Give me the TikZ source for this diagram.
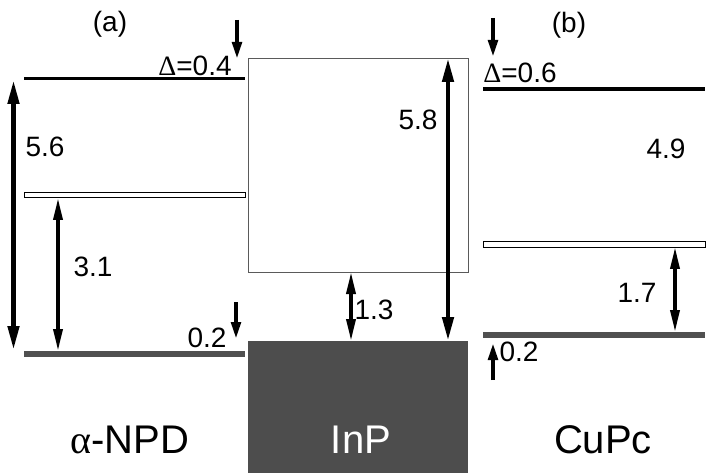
\documentclass[tikz,border=0pt]{standalone}
\usepackage{fontspec}
\setmainfont{Liberation Sans}
\newfontfamily\grk{Liberation Serif}
\usetikzlibrary{arrows.meta}
\definecolor{barg}{HTML}{505050}
\definecolor{inpg}{HTML}{4D4D4D}
\definecolor{boxg}{HTML}{5A5A5A}
\begin{document}
\begin{tikzpicture}[x=1pt,y=-1pt,
  lumo/.style={fill=black,draw=none,inner sep=0pt,minimum width=221pt,minimum height=3.5pt,anchor=west},
  hollow/.style={fill=white,draw=black,line width=1pt,inner sep=0pt,minimum width=221pt,minimum height=5.5pt,anchor=north west},
  gbar/.style={fill=barg,draw=none,inner sep=0pt,minimum width=221pt,minimum height=6pt,anchor=north west},
  bigdbl/.style={line width=4.5pt,{Triangle[length=24pt,width=11pt]}-{Triangle[length=24pt,width=11pt]}},
  thindbl/.style={line width=3.5pt,{Triangle[length=22pt,width=9pt]}-{Triangle[length=22pt,width=9pt]}},
  shiftarr/.style={line width=4.5pt,-{Triangle[length=18pt,width=9pt]}},
  lbl/.style={font=\fontsize{28}{28}\selectfont,inner sep=0pt},
  big/.style={font=\fontsize{40}{40}\selectfont,inner sep=0pt,anchor=base}]
\fill[white] (0,0) rectangle (715,473);
\useasboundingbox (0,0) rectangle (715,473);
% ---------- left panel (alpha-NPD)
\node[lumo] (luA) at (24,78.5) {};
\node[hollow] (hoA) at (24,192) {};
\node[gbar] (gbA) at (24,351) {};
\coordinate (a56t) at (13.5,80);
\coordinate (a56b) at (13.5,350);
\draw[bigdbl] (a56t) -- (a56b);
\coordinate (a31t) at (58,198);
\coordinate (a31b) at (58,351);
\draw[thindbl] (a31t) -- (a31b);
\coordinate (s04a) at (237,20);
\coordinate (s04b) at (237,60);
\draw[shiftarr] (s04a) -- (s04b);
\coordinate (s02a) at (236,302);
\coordinate (s02b) at (236,340);
\draw[shiftarr] (s02a) -- (s02b);
\node[lbl] (ta) at (110,24) {(a)};
\node[lbl] (t04) at (195,66) {{\grk Δ}=0.4};
\node[lbl] (t56) at (45,147) {5.6};
\node[lbl] (t31) at (93,267) {3.1};
\node[lbl] (t02a) at (207,338) {0.2};
\node[big] (npd) at (130,453) {{\grk α}-NPD};
% ---------- middle (InP)
\node[draw=boxg,line width=1pt,fill=white,inner sep=0pt,minimum width=220pt,minimum height=214pt,anchor=north west] (box) at (248,58) {};
\node[fill=inpg,draw=none,inner sep=0pt,minimum width=220pt,minimum height=133pt,anchor=north west] (inp) at (248,341) {};
\coordinate (a58t) at (448,58);
\coordinate (a58b) at (448,341);
\draw[bigdbl] (a58t) -- (a58b);
\coordinate (a13t) at (351,272);
\coordinate (a13b) at (351,341);
\draw[thindbl] (a13t) -- (a13b);
\node[lbl] (t58) at (418,120) {5.8};
\node[lbl] (t13) at (374,310) {1.3};
\node[big,text=white] (tinp) at (361,453) {InP};
% ---------- right panel (CuPc)
\node[lumo,minimum width=222pt] (luB) at (483,89) {};
\node[hollow,minimum width=222pt] (hoB) at (483,241.5) {};
\node[gbar,minimum width=222pt] (gbB) at (483,331.5) {};
\coordinate (a17t) at (675,247);
\coordinate (a17b) at (675,332);
\draw[thindbl] (a17t) -- (a17b);
\coordinate (s06a) at (493,18);
\coordinate (s06b) at (493,58);
\draw[shiftarr] (s06a) -- (s06b);
\coordinate (s02c) at (493,380);
\coordinate (s02d) at (493,342);
\draw[shiftarr] (s02c) -- (s02d);
\node[lbl] (tb) at (569,25) {(b)};
\node[lbl] (t06) at (520,73) {{\grk Δ}=0.6};
\node[lbl] (t49) at (666,149) {4.9};
\node[lbl] (t17) at (637,293) {1.7};
\node[lbl] (t02b) at (519,352) {0.2};
\node[big] (cupc) at (603,453) {CuPc};
\end{tikzpicture}
\end{document}
